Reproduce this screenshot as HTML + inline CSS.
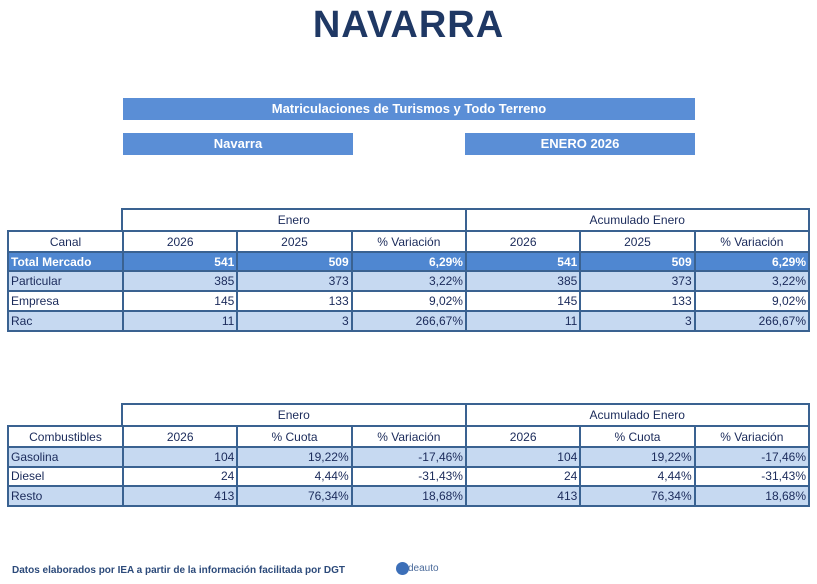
<!DOCTYPE html>
<html><head><meta charset="utf-8"><style>
body{margin:0;width:817px;height:584px;background:#fff;position:relative;font-family:"Liberation Sans",Arial,sans-serif;overflow:hidden}
.abs{position:absolute}
h1{position:absolute;left:0;width:817px;top:4px;margin:0;text-align:center;font-size:38px;font-weight:bold;color:#1f3864;letter-spacing:1px}
.ban{position:absolute;background:#5a8ed6;color:#fff;font-weight:bold;font-size:13px;text-align:center;line-height:22px;height:22px}
table{position:absolute;border-collapse:separate;border-spacing:2px;background:#3a6291;table-layout:fixed;font-size:12px;color:#1a2a5a}
td{padding:0 2px;background:#fff;text-align:right;white-space:nowrap;overflow:hidden}
tr.h td{text-align:center}
tr.t td{background:#4f87d1;color:#fff;font-weight:bold}
tr.l td{background:#c6d9f1}
td.f{text-align:left}
</style></head><body>
<h1>NAVARRA</h1>
<div class="ban" style="left:123px;top:98px;width:572px">Matriculaciones de Turismos y Todo Terreno</div>
<div class="ban" style="left:123px;top:133px;width:230px">Navarra</div>
<div class="ban" style="left:465px;top:133px;width:230px">ENERO 2026</div>

<table style="left:121px;top:208px;width:689px;height:24px"><tr class="h" style="height:20px"><td>Enero</td><td>Acumulado Enero</td></tr></table>
<table style="left:7px;top:230px;width:803px;height:102px">
<colgroup><col style="width:113px"><col><col><col><col><col><col></colgroup>
<tr class="h" style="height:19px"><td>Canal</td><td>2026</td><td>2025</td><td>% Variación</td><td>2026</td><td>2025</td><td>% Variación</td></tr>
<tr class="t" style="height:17px"><td class="f">Total Mercado</td><td>541</td><td>509</td><td>6,29%</td><td>541</td><td>509</td><td>6,29%</td></tr>
<tr class="l" style="height:17px"><td class="f">Particular</td><td>385</td><td>373</td><td>3,22%</td><td>385</td><td>373</td><td>3,22%</td></tr>
<tr style="height:18px"><td class="f">Empresa</td><td>145</td><td>133</td><td>9,02%</td><td>145</td><td>133</td><td>9,02%</td></tr>
<tr class="l" style="height:18px"><td class="f">Rac</td><td>11</td><td>3</td><td>266,67%</td><td>11</td><td>3</td><td>266,67%</td></tr>
</table>

<table style="left:121px;top:403px;width:689px;height:24px"><tr class="h" style="height:20px"><td>Enero</td><td>Acumulado Enero</td></tr></table>
<table style="left:7px;top:425px;width:803px;height:82px">
<colgroup><col style="width:113px"><col><col><col><col><col><col></colgroup>
<tr class="h" style="height:19px"><td>Combustibles</td><td>2026</td><td>% Cuota</td><td>% Variación</td><td>2026</td><td>% Cuota</td><td>% Variación</td></tr>
<tr class="l" style="height:17px"><td class="f">Gasolina</td><td>104</td><td>19,22%</td><td>-17,46%</td><td>104</td><td>19,22%</td><td>-17,46%</td></tr>
<tr style="height:17px"><td class="f">Diesel</td><td>24</td><td>4,44%</td><td>-31,43%</td><td>24</td><td>4,44%</td><td>-31,43%</td></tr>
<tr class="l" style="height:18px"><td class="f">Resto</td><td>413</td><td>76,34%</td><td>18,68%</td><td>413</td><td>76,34%</td><td>18,68%</td></tr>
</table>

<div class="abs" style="left:12px;top:565px;font-size:10px;font-weight:bold;color:#2c4a7a">Datos elaborados por IEA a partir de la información facilitada por DGT</div>
<div class="abs" style="left:396px;top:562px;width:13px;height:13px;border-radius:50%;background:#3c6fb8"></div>
<div class="abs" style="left:408px;top:563px;font-size:10px;color:#4a6a9a">deauto</div>
</body></html>
